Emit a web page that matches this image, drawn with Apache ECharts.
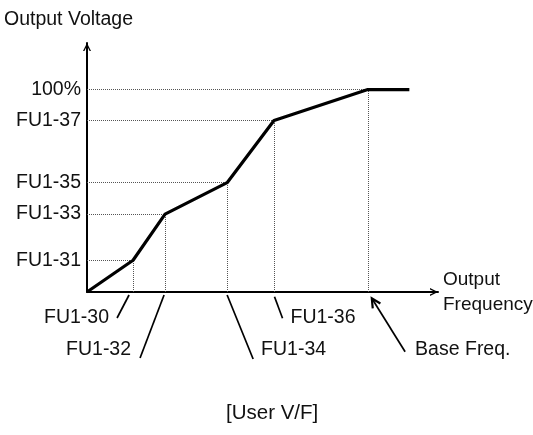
<!DOCTYPE html>
<html>
<head>
<meta charset="utf-8">
<title>User V/F pattern</title>
<script src="https://cdn.jsdelivr.net/npm/echarts@6/dist/echarts.min.js"></script>
<style>
  html, body { margin: 0; padding: 0; background: #fff; }
  #chart { width: 533px; height: 435px; }
</style>
</head>
<body>
<div id="chart"></div>
<script>
// User V/F curve: break points in % of base frequency / % of output voltage
const freqPoints = [0, 16.4, 27.8, 49.9, 66.6, 100, 114.8];
const voltPoints = [0, 15.7, 38.5, 54, 84.7, 100, 100];

// Voltage levels marked on the vertical axis
const voltLevels = [15.7, 38.5, 54, 84.7, 100];
const voltLabels = ['FU1-31', 'FU1-33', 'FU1-35', 'FU1-37', '100%'];

// Frequency marks called out under the horizontal axis
const freqMarks = [16.4, 27.8, 49.9, 66.6, 100];
const freqLabels = ['FU1-30', 'FU1-32', 'FU1-34', 'FU1-36', 'Base Freq.'];

const FONT = '"Liberation Sans", Arial, sans-serif';
const FONT_SIZE = 19.5;
const TEXT_COLOR = '#111';

// Leader line geometry (pixels, relative to each mark's foot on the axis)
const leaderLayout = [
  { start: [-4, 3],    vec: [-12, 23],   text: [-8, -0.5], align: 'right' },
  { start: [-1, 3],    vec: [-24, 63],   text: [-9, -8],   align: 'right' },
  { start: [0, 3],     vec: [26, 64],    text: [8, -9],    align: 'left'  },
  { start: [0.5, 4.7], vec: [8, 21.6],   text: [8, -1],    align: 'left'  },
  { start: [4, 6.3],   vec: [33.3, 53.4], text: [10, -2.4], align: 'left', arrow: true }
];

const curve = freqPoints.map((f, i) => [f, voltPoints[i]]);

// Dotted guides from the axes to each break point
const guides = [];
voltLevels.forEach((v, i) => {
  guides.push([{ coord: [0, v] }, { coord: [freqMarks[i], v] }]);
  guides.push([{ coord: [freqMarks[i], 0] }, { coord: [freqMarks[i], v] }]);
});

const chevron = 'path://M0,0 L4,8 L2.6,8 L0,2.8 L-2.6,8 L-4,8 Z';

function renderLeader(params, api) {
  const idx = api.value(2);
  const L = leaderLayout[idx];
  const p = api.coord([api.value(0), 0]);
  const s = [p[0] + L.start[0], p[1] + L.start[1]];
  const e = [s[0] + L.vec[0], s[1] + L.vec[1]];
  const children = [
    {
      type: 'line',
      shape: { x1: s[0], y1: s[1], x2: e[0], y2: e[1] },
      style: { stroke: '#000', lineWidth: 1.7 }
    },
    {
      type: 'text',
      style: {
        text: freqLabels[idx],
        x: e[0] + L.text[0],
        y: e[1] + L.text[1],
        align: L.align,
        verticalAlign: 'middle',
        fill: TEXT_COLOR,
        font: FONT_SIZE + 'px ' + FONT
      }
    }
  ];
  if (L.arrow) {
    const len = Math.hypot(L.vec[0], L.vec[1]);
    const ux = L.vec[0] / len, uy = L.vec[1] / len;
    const px = -uy, py = ux;
    const h = 9, w = 4.5;
    children.push({
      type: 'polyline',
      shape: {
        points: [
          [s[0] + ux * h + px * w, s[1] + uy * h + py * w],
          [s[0], s[1]],
          [s[0] + ux * h - px * w, s[1] + uy * h - py * w]
        ]
      },
      style: { stroke: '#000', lineWidth: 2.2, fill: null }
    });
  }
  return { type: 'group', children: children };
}

const chart = echarts.init(document.getElementById('chart'), null, { renderer: 'canvas' });

chart.setOption({
  animation: false,
  backgroundColor: '#fff',
  textStyle: { fontFamily: FONT },
  title: [
    {
      text: 'Output Voltage',
      left: 4, top: 10, padding: 0,
      textStyle: { fontFamily: FONT, fontSize: FONT_SIZE, fontWeight: 'normal', color: TEXT_COLOR }
    },
    {
      text: '[User V/F]',
      left: 226, top: 403, padding: 0,
      textStyle: { fontFamily: FONT, fontSize: 20.5, fontWeight: 'normal', color: TEXT_COLOR }
    }
  ],
  grid: { left: 87, right: 95, top: 43, bottom: 143, containLabel: false, outerBoundsMode: 'none' },
  xAxis: {
    type: 'value',
    min: 0, max: 125,
    name: 'Output\nFrequency',
    nameLocation: 'end',
    nameGap: 5,
    nameTextStyle: {
      fontFamily: FONT, fontSize: 19, color: TEXT_COLOR,
      align: 'left', verticalAlign: 'middle', lineHeight: 25
    },
    axisLine: {
      show: true,
      lineStyle: { color: '#000', width: 2 },
      symbol: ['none', chevron],
      symbolSize: [8, 8],
      symbolOffset: [0, -4]
    },
    axisTick: { show: false },
    axisLabel: { show: false },
    splitLine: { show: false }
  },
  yAxis: {
    type: 'value',
    min: 0, max: 123,
    axisLine: {
      show: true,
      lineStyle: { color: '#000', width: 2 },
      symbol: ['none', chevron],
      symbolSize: [8, 8],
      symbolOffset: [0, -4]
    },
    axisTick: { show: false },
    splitLine: { show: false },
    axisLabel: {
      show: true,
      customValues: voltLevels,
      margin: 6,
      fontFamily: FONT,
      fontSize: FONT_SIZE,
      color: TEXT_COLOR,
      formatter: function (v) {
        const i = voltLevels.indexOf(v);
        return i >= 0 ? voltLabels[i] : '';
      }
    }
  },
  series: [
    {
      type: 'line',
      data: curve,
      symbol: 'none',
      z: 5,
      lineStyle: { color: '#000', width: 3.2 },
      markLine: {
        silent: true,
        symbol: ['none', 'none'],
        label: { show: false },
        lineStyle: { type: 'dotted', color: '#555', width: 1 },
        data: guides
      }
    },
    {
      type: 'custom',
      clip: false,
      silent: true,
      z: 6,
      data: freqMarks.map((f, i) => [f, 0, i]),
      encode: { x: 0, y: 1 },
      renderItem: renderLeader
    }
  ]
});
</script>
</body>
</html>
